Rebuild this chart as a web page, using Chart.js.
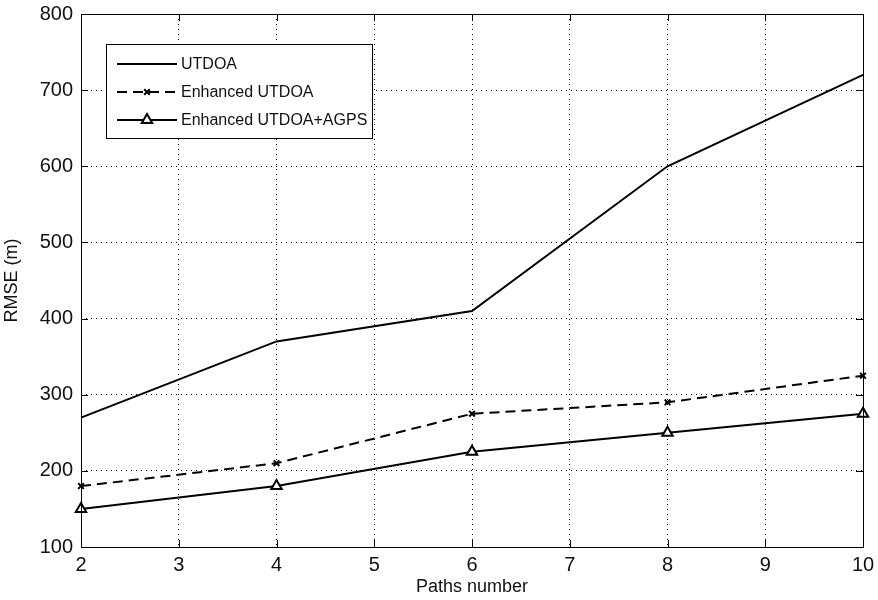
<!DOCTYPE html>
<html>
<head>
<meta charset="utf-8">
<script src="https://cdn.jsdelivr.net/npm/chart.js@4"></script>
<style>
  body { margin: 0; background: #fff; }
  canvas { display: block; }
</style>
</head>
<body>
<canvas id="rmseChart" width="878" height="600"></canvas>
<script>
// data
const pathsNumber = [2, 4, 6, 8, 10];
const utdoa = [270, 370, 410, 600, 720];
const enhancedUtdoa = [180, 210, 275, 290, 325];
const enhancedAgps = [150, 180, 225, 250, 275];
const seriesNames = ["UTDOA", "Enhanced UTDOA", "Enhanced UTDOA+AGPS"];

const FONT = "'Liberation Sans', Arial, sans-serif";

function toPoints(vals) {
    return pathsNumber.map((x, i) => ({ x: x, y: vals[i] }));
}

// box, inward ticks on all four sides (matlab style)
const frame = {
    id: "frame",
    afterDatasetsDraw(chart) {
        const ctx = chart.ctx;
        const a = chart.chartArea;
        const xs = chart.scales.x, ys = chart.scales.y;
        ctx.save();
        ctx.strokeStyle = "#000";
        ctx.lineWidth = 1;
        ctx.beginPath();
        xs.ticks.forEach(t => {
            const px = Math.round(xs.getPixelForValue(t.value)) + 0.5;
            ctx.moveTo(px, a.bottom); ctx.lineTo(px, a.bottom - 7);
            ctx.moveTo(px, a.top); ctx.lineTo(px, a.top + 7);
        });
        ys.ticks.forEach(t => {
            const py = Math.round(ys.getPixelForValue(t.value)) + 0.5;
            ctx.moveTo(a.left, py); ctx.lineTo(a.left + 7, py);
            ctx.moveTo(a.right, py); ctx.lineTo(a.right - 7, py);
        });
        ctx.stroke();
        ctx.strokeRect(Math.round(a.left) + 0.5, Math.round(a.top) + 0.5,
            Math.round(a.right - a.left), Math.round(a.bottom - a.top));
        ctx.restore();
    }
};

// legend box drawn like the original one
const boxLegend = {
    id: "boxLegend",
    afterDraw(chart) {
        const ctx = chart.ctx;
        ctx.save();
        ctx.font = "16px " + FONT;
        let textW = 0;
        chart.data.datasets.forEach(ds => { textW = Math.max(textW, ctx.measureText(ds.label).width); });
        const x0 = 106, y0 = 44, h = 94;
        const w = Math.max(256, Math.ceil(181 + textW + 4 - x0));
        ctx.fillStyle = "#fff";
        ctx.fillRect(x0, y0, w, h);
        ctx.strokeStyle = "#000";
        ctx.lineWidth = 1;
        ctx.strokeRect(x0 + 0.5, y0 + 0.5, w, h);
        ctx.textBaseline = "middle";
        chart.data.datasets.forEach((ds, i) => {
            const y = 64 + i * 28;
            ctx.strokeStyle = "#000";
            ctx.lineWidth = 2;
            ctx.setLineDash(ds.borderDash || []);
            ctx.beginPath();
            ctx.moveTo(117, y);
            ctx.lineTo(177, y);
            ctx.stroke();
            ctx.setLineDash([]);
            if (ds.pointRadius > 0) {
                ctx.fillStyle = "#fff";
                ctx.strokeStyle = "#000";
                ctx.lineWidth = ds.pointBorderWidth;
                Chart.helpers.drawPoint(ctx, {
                    pointStyle: ds.pointStyle,
                    radius: ds.pointRadius,
                    borderWidth: ds.pointBorderWidth,
                    rotation: 0
                }, 147, y);
            }
            ctx.fillStyle = "#111";
            ctx.fillText(ds.label, 181, y + 1);
        });
        ctx.restore();
    }
};

const ctx = document.getElementById("rmseChart");
new Chart(ctx, {
    type: "line",
    data: {
        datasets: [
            {
                label: seriesNames[0],
                data: toPoints(utdoa),
                borderColor: "#000",
                borderWidth: 2,
                pointRadius: 0,
                pointHoverRadius: 0,
                clip: false,
                tension: 0
            },
            {
                label: seriesNames[1],
                data: toPoints(enhancedUtdoa),
                borderColor: "#000",
                borderWidth: 2,
                borderDash: [10, 6],
                pointStyle: "crossRot",
                pointRadius: 4,
                pointBorderWidth: 2,
                pointBorderColor: "#000",
                clip: false,
                tension: 0
            },
            {
                label: seriesNames[2],
                data: toPoints(enhancedAgps),
                borderColor: "#000",
                borderWidth: 2,
                pointStyle: "triangle",
                pointRadius: 6,
                pointBorderWidth: 2,
                pointBorderColor: "#000",
                pointBackgroundColor: "#fff",
                clip: false,
                tension: 0
            }
        ]
    },
    options: {
        responsive: false,
        animation: false,
        events: [],
        layout: { padding: { top: 14, right: 15, left: 0, bottom: 0 } },
        plugins: {
            legend: { display: false },
            tooltip: { enabled: false }
        },
        scales: {
            x: {
                type: "linear",
                min: 2,
                max: 10,
                afterFit: (s) => { s.height = 53; s.paddingLeft = 0; s.paddingRight = 0; },
                ticks: {
                    stepSize: 1,
                    padding: 6,
                    color: "#111",
                    font: { family: FONT, size: 20 }
                },
                grid: {
                    color: (c) => (c.index === 0 || c.index === 8) ? "transparent" : "#000",
                    lineWidth: 1,
                    drawTicks: false
                },
                border: { display: false, dash: [1, 4] },
                title: {
                    display: true,
                    text: "Paths number",
                    color: "#111",
                    padding: { top: 0, bottom: 2 },
                    font: { family: FONT, size: 18 }
                }
            },
            y: {
                min: 100,
                max: 800,
                afterFit: (s) => { s.width = 81; s.paddingTop = 0; s.paddingBottom = 0; },
                ticks: {
                    stepSize: 100,
                    padding: 8,
                    color: "#111",
                    font: { family: FONT, size: 20 }
                },
                grid: {
                    color: (c) => (c.index === 0 || c.index === 7) ? "transparent" : "#000",
                    lineWidth: 1,
                    drawTicks: false
                },
                border: { display: false, dash: [1, 4] },
                title: {
                    display: true,
                    text: "RMSE (m)",
                    color: "#111",
                    padding: { top: 1, bottom: 0 },
                    font: { family: FONT, size: 18 }
                }
            }
        }
    },
    plugins: [frame, boxLegend]
});
</script>
</body>
</html>
